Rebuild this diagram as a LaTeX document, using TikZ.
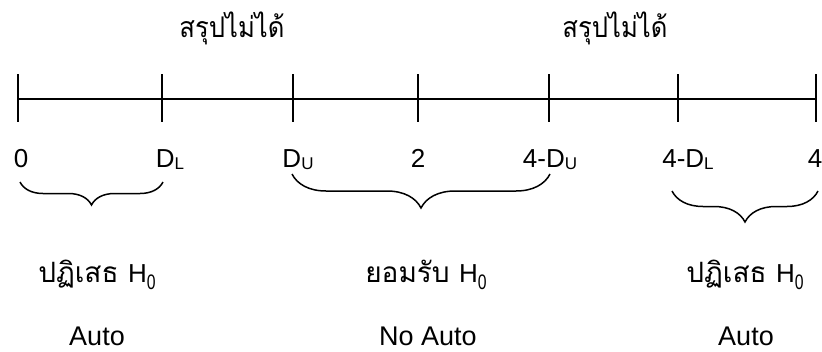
\documentclass[tikz,border=0pt]{standalone}
\usepackage{fontspec}
\setmainfont{Liberation Sans}
\newfontfamily\thaifont[Script=Thai]{Loma}
\newfontfamily\thaitight[Script=Thai,FakeStretch=0.9]{Loma}
\newfontfamily\narrowsans[FakeStretch=0.75]{Liberation Sans}
\usetikzlibrary{decorations.pathreplacing}

% small lowered index used in the axis values
\newcommand\idx[1]{\raisebox{-2pt}{\fontsize{17}{17}\selectfont #1}}
% H0 beside the Thai words, with a tall narrow index
\newcommand\hzero{{\rmfamily\fontsize{26}{28}\selectfont H\raisebox{-7pt}{\narrowsans\fontsize{21}{22}\selectfont 0}}}

\begin{document}
\begin{tikzpicture}[x=1pt,y=-1pt,
  axisline/.style={line width=2pt},
  tickline/.style={line width=1.8pt},
  ticklabel/.style={font=\fontsize{26}{28}\selectfont, inner sep=0pt, anchor=base},
  thailabel/.style={font=\thaifont\fontsize{28}{32}\selectfont, inner sep=0pt, anchor=base},
  toplabel/.style={font=\thaitight\fontsize{28.5}{32}\selectfont, inner sep=0pt, anchor=base},
  latinlabel/.style={font=\fontsize{27}{30}\selectfont, inner sep=0pt, anchor=base},
  regionbrace/.style={line width=1.5pt, decorate, decoration={brace, mirror, amplitude=#1}}]
\useasboundingbox (0,0) rectangle (822,351);

% tick positions along the axis
\foreach \n/\x in {0/18,1/162,2/293,3/418,4/549,5/678,6/816} {
  \coordinate (t\n) at (\x,99);
  \coordinate (t\n top) at (\x,74);
  \coordinate (t\n bot) at (\x,122);
  \draw[tickline] (t\n top) -- (t\n bot);
}
\draw[axisline] (t0) -- (t6);

% values under the ticks
\node[ticklabel] (l0) at (21,167) {0};
\node[ticklabel] (l1) at (170,167) {D\idx{L}};
\node[ticklabel] (l2) at (298,167) {D\idx{U}};
\node[ticklabel] (l3) at (418,167) {2};
\node[ticklabel] (l4) at (550,167) {4-D\idx{U}};
\node[ticklabel] (l5) at (688,167) {4-D\idx{L}};
\node[ticklabel] (l6) at (815,167) {4};

% inconclusive zones
\node[toplabel] (u1) at (232,37) {สรุปไม่ได้};
\node[toplabel] (u2) at (615,37) {สรุปไม่ได้};

% braces under the regions
\coordinate (b1s) at (20,182);  \coordinate (b1e) at (163,182);
\coordinate (b2s) at (292,174); \coordinate (b2e) at (550,174);
\coordinate (b3s) at (672,191); \coordinate (b3e) at (818,191);
\draw[regionbrace=23pt] (b1s) -- (b1e);
\draw[regionbrace=34pt] (b2s) -- (b2e);
\draw[regionbrace=31pt] (b3s) -- (b3e);

% decisions
\node[thailabel] (d1) at (97,282) {ปฏิเสธ \hzero};
\node[thailabel] (d2) at (426,282) {ยอมรับ \hzero};
\node[thailabel] (d3) at (745,282) {ปฏิเสธ \hzero};

\node[latinlabel] (a1) at (97,345) {Auto};
\node[latinlabel] (a2) at (428,345) {No Auto};
\node[latinlabel] (a3) at (746,345) {Auto};
\end{tikzpicture}
\end{document}
